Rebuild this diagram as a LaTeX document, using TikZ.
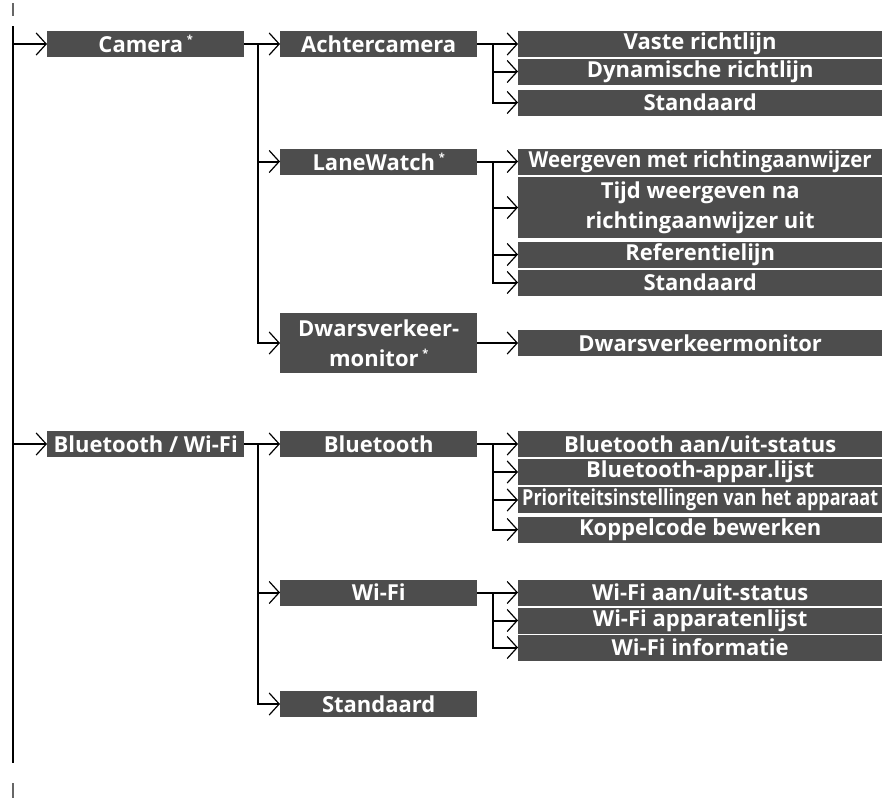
\documentclass[tikz,border=0pt]{standalone}
\usepackage{fontspec}
\setmainfont{Open Sans}
\usepackage{tikz}
\usetikzlibrary{arrows.meta}
\definecolor{boxgray}{RGB}{77,77,77}
\newcommand{\optmark}{\,\raisebox{0.75ex}{\fontsize{11}{11}\selectfont *}}
\tikzset{
  box/.style={fill=boxgray, text=white, font=\fontsize{22}{30}\selectfont\bfseries,
    inner sep=0pt, minimum height=26pt, align=center, anchor=west},
  lvlone/.style={box, minimum width=197pt},
  lvltwo/.style={box, minimum width=197pt},
  lvlthree/.style={box, minimum width=364pt},
  link/.style={line width=2pt},
  arr/.style={link, -{Straight Barb[length=10pt,width=22pt,line width=1.2pt]}},
}

\begin{document}
\begin{tikzpicture}[x=1pt, y=-1pt]
\useasboundingbox (0,0) rectangle (882,798);

% Stam
\coordinate (ttop) at (13,26);
\coordinate (tbot) at (13,763);
\draw[link] (ttop) -- (tbot);
\draw[line width=2pt, black!60] (13,3) -- (13,16);
\draw[line width=2pt, black!60] (13,783) -- (13,798);

% Camera
\node[lvlone] (cam) at (47,44) {Camera\optmark};
\node[lvltwo] (achter) at (280,44) {Achtercamera};
\node[lvltwo] (lane) at (280,161.5) {LaneWatch\optmark};
\node[lvltwo, minimum height=60pt] (dwars) at (280,343) {Dwarsverkeer-\\monitor\optmark};

% Achtercamera
\node[lvlthree] (vaste) at (518,44) {Vaste richtlijn};
\node[lvlthree] (dyn) at (518,71.5) {Dynamische richtlijn};
\node[lvlthree] (stda) at (518,102.5) {Standaard};

% LaneWatch
\node[lvlthree] (weerg) at (518,161.5) {\resizebox{343pt}{\height}{Weergeven met richtingaanwijzer}};
\node[lvlthree, minimum height=61pt] (tijd) at (518,207.5) {Tijd weergeven na\\richtingaanwijzer uit};
\node[lvlthree] (refl) at (518,254.5) {Referentielijn};
\node[lvlthree] (stdl) at (518,282.5) {Standaard};

% Dwarsverkeermonitor
\node[lvlthree] (dwmon) at (518,343) {Dwarsverkeermonitor};

% Bluetooth / Wi-Fi
\node[lvlone] (btwf) at (47,444) {Bluetooth / Wi-Fi};
\node[lvltwo] (bt) at (280,444) {Bluetooth};
\node[lvltwo] (wifi) at (280,592.5) {Wi-Fi};
\node[lvltwo] (stdb) at (280,704) {Standaard};

% Bluetooth
\node[lvlthree] (btaan) at (518,444) {Bluetooth aan/uit-status};
\node[lvlthree] (btlijst) at (518,472) {Bluetooth-appar.lijst};
\node[lvlthree] (btprio) at (518,500) {\resizebox{356pt}{\height}{Prioriteitsinstellingen van het apparaat}};
\node[lvlthree] (btkop) at (518,529.5) {Koppelcode bewerken};

% Wi-Fi
\node[lvlthree] (wfaan) at (518,592.5) {Wi-Fi aan/uit-status};
\node[lvlthree] (wflijst) at (518,620.5) {Wi-Fi apparatenlijst};
\node[lvlthree] (wfinfo) at (518,647.5) {Wi-Fi informatie};

% Pijlen vanaf de stam
\draw[arr] (ttop |- cam.west) -- (cam.west);
\draw[arr] (ttop |- btwf.west) -- (btwf.west);

% Camera-takken
\draw[arr] (cam.east) -- (achter.west);
\draw[arr] (cam.east) -- ++(14,0) |- (lane.west);
\draw[arr] (cam.east) -- ++(14,0) |- (dwars.west);

\draw[arr] (achter.east) -- (vaste.west);
\draw[arr] (achter.east) -- ++(16,0) |- (dyn.west);
\draw[arr] (achter.east) -- ++(16,0) |- (stda.west);

\draw[arr] (lane.east) -- (weerg.west);
\draw[arr] (lane.east) -- ++(16,0) |- (tijd.west);
\draw[arr] (lane.east) -- ++(16,0) |- (refl.west);
\draw[arr] (lane.east) -- ++(16,0) |- (stdl.west);

\draw[arr] (dwars.east) -- (dwmon.west);

% Bluetooth / Wi-Fi-takken
\draw[arr] (btwf.east) -- (bt.west);
\draw[arr] (btwf.east) -- ++(14,0) |- (wifi.west);
\draw[arr] (btwf.east) -- ++(14,0) |- (stdb.west);

\draw[arr] (bt.east) -- (btaan.west);
\draw[arr] (bt.east) -- ++(16,0) |- (btlijst.west);
\draw[arr] (bt.east) -- ++(16,0) |- (btprio.west);
\draw[arr] (bt.east) -- ++(16,0) |- (btkop.west);

\draw[arr] (wifi.east) -- (wfaan.west);
\draw[arr] (wifi.east) -- ++(16,0) |- (wflijst.west);
\draw[arr] (wifi.east) -- ++(16,0) |- (wfinfo.west);

\end{tikzpicture}
\end{document}
